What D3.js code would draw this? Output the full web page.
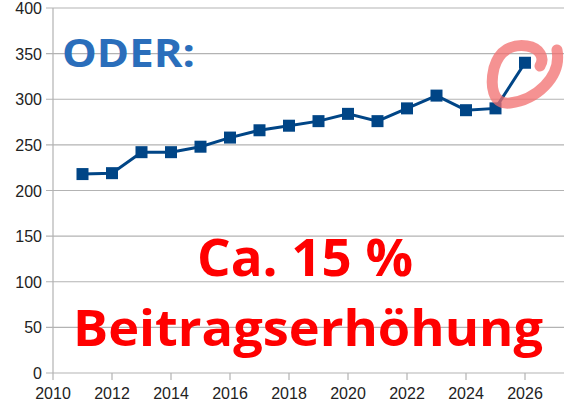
<!DOCTYPE html><html><head><meta charset="utf-8"><script src="https://cdn.jsdelivr.net/npm/d3@7"></script>
<style>body{margin:0;background:#fff}</style></head><body><svg id="c" width="564" height="409"></svg>
<script>
const years=[2011,2012,2013,2014,2015,2016,2017,2018,2019,2020,2021,2022,2023,2024,2025,2026];
const values=[218,219,242,242,248,258,266,271,276,284,276,290,304,288,290,340];
const yTicks=[0,50,100,150,200,250,300,350,400];
const xTicks=[2010,2012,2014,2016,2018,2020,2022,2024,2026];
const svg=d3.select("#c");
const x=d3.scaleLinear().domain([2010,2026]).range([53,525]);
const y=d3.scaleLinear().domain([0,400]).range([373,8]);
const f="Liberation Sans, Arial, sans-serif";
svg.append("g").selectAll("line").data(yTicks).join("line").attr("x1",46).attr("x2",564)
 .attr("y1",d=>y(d)).attr("y2",d=>y(d)).attr("stroke","#b3b3b3").attr("stroke-width",1.2);
svg.append("line").attr("x1",53).attr("x2",53).attr("y1",8).attr("y2",373).attr("stroke","#b3b3b3").attr("stroke-width",1.2);
svg.append("g").selectAll("line").data(xTicks).join("line").attr("x1",d=>x(d)).attr("x2",d=>x(d))
 .attr("y1",373).attr("y2",380).attr("stroke","#b3b3b3").attr("stroke-width",1.2);
svg.append("g").selectAll("text").data(yTicks).join("text").attr("x",42).attr("y",d=>y(d)+6)
 .attr("text-anchor","end").attr("font-family",f).attr("font-size",16).attr("fill","#222").text(d=>d);
svg.append("g").selectAll("text").data(xTicks).join("text").attr("x",d=>x(d)).attr("y",399)
 .attr("text-anchor","middle").attr("font-family",f).attr("font-size",16).attr("fill","#222").text(d=>d);
const pts=years.map((d,i)=>[x(d),y(values[i])]);
svg.append("path").attr("d",d3.line()(pts)).attr("fill","none").attr("stroke","#004586").attr("stroke-width",3);
svg.append("g").selectAll("rect").data(pts).join("rect").attr("x",d=>d[0]-6).attr("y",d=>d[1]-6)
 .attr("width",12).attr("height",12).attr("fill","#004586");
svg.append("path").attr("d","M557,50 C562,78 535,100 510,103 C492,105 490,85 494,68 C499,50 512,44 527,46 C540,48 545,58 540,66")
 .attr("fill","none").attr("stroke","#f26d6d").attr("stroke-opacity",0.75).attr("stroke-width",11).attr("stroke-linecap","round");
svg.append("text").attr("x",62).attr("y",67).attr("font-family","Open Sans, sans-serif").attr("font-weight","bold")
 .attr("font-size",40).attr("fill","#2a6ebb").attr("textLength",133).attr("lengthAdjust","spacingAndGlyphs").text("ODER:");
svg.append("text").attr("x",305).attr("y",276).attr("text-anchor","middle").attr("font-family","Open Sans, sans-serif").attr("font-weight","bold")
 .attr("font-size",52).attr("fill","#ff0000").attr("textLength",216).attr("lengthAdjust","spacingAndGlyphs").text("Ca. 15 %");
svg.append("text").attr("x",308).attr("y",346).attr("text-anchor","middle").attr("font-family","Open Sans, sans-serif").attr("font-weight","bold")
 .attr("font-size",50).attr("fill","#ff0000").attr("textLength",470).attr("lengthAdjust","spacingAndGlyphs").text("Beitragserhöhung");
</script></body></html>
